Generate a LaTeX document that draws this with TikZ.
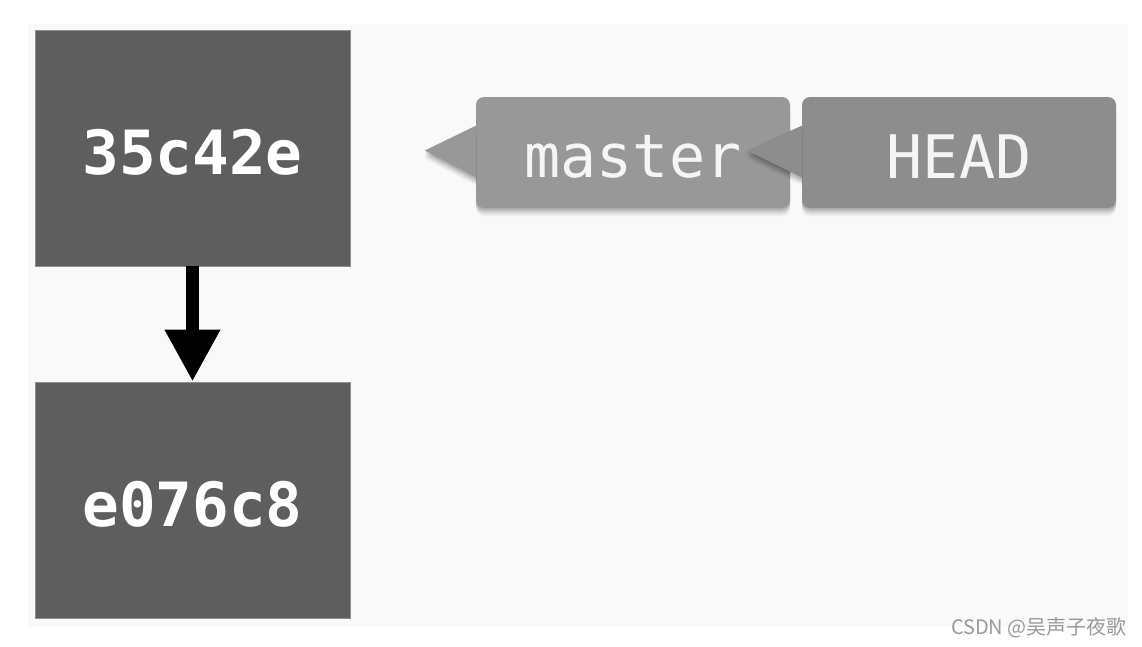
\documentclass[tikz,border=0pt]{standalone}
\usepackage{fontspec}
\setmonofont{DejaVu Sans Mono}
\newfontfamily\cjk{Noto Sans CJK SC}
\usetikzlibrary{arrows.meta,calc}
\definecolor{panelcol}{HTML}{F9F9F9}
\definecolor{commitcol}{HTML}{5E5E5E}
\definecolor{mastercol}{HTML}{989898}
\definecolor{headcol}{HTML}{8D8D8D}
\definecolor{markcol}{HTML}{9A9A9A}
\tikzset{
  softshadow/.style={
    preaction={fill=black, fill opacity=0.10, transform canvas={yshift=-2pt}},
    preaction={fill=black, fill opacity=0.09, transform canvas={yshift=-4pt}},
    preaction={fill=black, fill opacity=0.07, transform canvas={yshift=-6pt}},
    preaction={fill=black, fill opacity=0.05, transform canvas={yshift=-8pt}}},
  commit/.style={fill=commitcol, draw=commitcol!70!white, line width=0.8pt,
    minimum width=315pt, minimum height=236pt, inner sep=0pt,
    text=white, font=\ttfamily\bfseries\fontsize{61}{63}\selectfont},
  branch/.style={rounded corners=8pt, minimum width=314pt, minimum height=111pt,
    inner sep=0pt, text=white!96!black, font=\ttfamily\fontsize{60}{62}\selectfont,
    softshadow},
  pointer/.style={softshadow},
  parentarrow/.style={line width=13pt, -{Triangle[width=52pt,length=52pt]}}
}
\newcommand{\lowered}[1]{\raisebox{-4pt}[\height][\depth]{#1}}
\begin{document}
\begin{tikzpicture}[x=1pt,y=-1pt]
\useasboundingbox (0,0) rectangle (1142,646);
\fill[white] (0,0) rectangle (1142,646);
\fill[panelcol] (28,24) rectangle (1128,627);
% commits
\node[commit] (c1) at (192.5,148) {\lowered{35c42e}};
\node[commit] (c2) at (192.5,500) {\lowered{e076c8}};
\draw[parentarrow] (c1.south) -- (c2.north);
% branch labels
\node[branch, fill=mastercol] (master) at (633,152.5) {\lowered{master}};
\coordinate (mastertip) at ($(master.west)+(-51,-2)$);
\fill[mastercol, pointer] ($(master.west)+(0.5,-27)$) -- (mastertip) -- ($(master.west)+(0.5,25)$) -- cycle;
\node[branch, fill=headcol] (head) at (959,152.5) {\lowered{HEAD}};
\coordinate (headtip) at ($(head.west)+(-55,-2)$);
\fill[headcol, pointer] ($(head.west)+(0.5,-27)$) -- (headtip) -- ($(head.west)+(0.5,25)$) -- cycle;
% watermark
\node[text=markcol, font=\cjk\fontsize{20}{22}\selectfont, anchor=east, inner sep=0pt] (mark) at (1127,628) {CSDN @吴声子夜歌};
\end{tikzpicture}
\end{document}
